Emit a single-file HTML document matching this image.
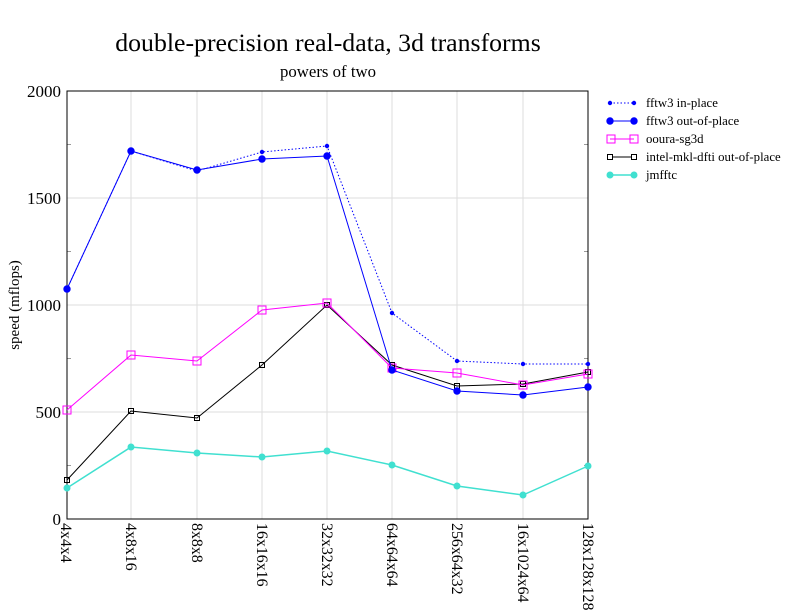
<!DOCTYPE html>
<html><head><style>body{margin:0;background:#fff}svg{display:block}text{font-family:"Liberation Serif",serif;fill:#000}</style></head><body>
<svg width="792" height="612" xmlns="http://www.w3.org/2000/svg">
<text x="328" y="51" font-size="25.8" text-anchor="middle">double-precision real-data, 3d transforms</text>
<text x="328" y="77" font-size="16.8" text-anchor="middle">powers of two</text>
<g stroke="#ddd" stroke-width="1">
<line x1="131" y1="91" x2="131" y2="519"/><line x1="197" y1="91" x2="197" y2="519"/><line x1="262" y1="91" x2="262" y2="519"/><line x1="327" y1="91" x2="327" y2="519"/><line x1="392" y1="91" x2="392" y2="519"/><line x1="457" y1="91" x2="457" y2="519"/><line x1="523" y1="91" x2="523" y2="519"/>
<line x1="67" y1="198" x2="588" y2="198"/><line x1="67" y1="305" x2="588" y2="305"/><line x1="67" y1="412" x2="588" y2="412"/>
</g>
<g stroke="#999"><line x1="67" y1="144.5" x2="71" y2="144.5"/><line x1="67" y1="251.5" x2="71" y2="251.5"/><line x1="67" y1="358.5" x2="71" y2="358.5"/><line x1="67" y1="465.5" x2="71" y2="465.5"/>
<line x1="584" y1="144.5" x2="588" y2="144.5"/><line x1="584" y1="251.5" x2="588" y2="251.5"/><line x1="584" y1="358.5" x2="588" y2="358.5"/><line x1="584" y1="465.5" x2="588" y2="465.5"/></g>
<rect x="67" y="91" width="521" height="428" fill="none" stroke="#000" stroke-width="1"/>
<g font-size="17" text-anchor="end"><text x="61" y="97">2000</text><text x="61" y="204">1500</text><text x="61" y="311">1000</text><text x="61" y="418">500</text><text x="61" y="525">0</text></g>
<text transform="translate(19,305) rotate(-90)" font-size="15" text-anchor="middle">speed (mflops)</text>
<g font-size="15.9">
<text transform="translate(61,523) rotate(90)">4x4x4</text>
<text transform="translate(126,523) rotate(90)">4x8x16</text>
<text transform="translate(192,523) rotate(90)">8x8x8</text>
<text transform="translate(257,523) rotate(90)">16x16x16</text>
<text transform="translate(322,523) rotate(90)">32x32x32</text>
<text transform="translate(387,523) rotate(90)">64x64x64</text>
<text transform="translate(452,523) rotate(90)">256x64x32</text>
<text transform="translate(518,523) rotate(90)">16x1024x64</text>
<text transform="translate(583,523) rotate(90)">128x128x128</text>
</g>
<polyline fill="none" stroke="#40e0d0" stroke-width="1.5" points="67,488 131,447 197,453 262,457 327,451 392,465 457,486 523,495 588,466"/>
<g fill="#40e0d0"><circle cx="67" cy="488" r="3.5"/><circle cx="131" cy="447" r="3.5"/><circle cx="197" cy="453" r="3.5"/><circle cx="262" cy="457" r="3.5"/><circle cx="327" cy="451" r="3.5"/><circle cx="392" cy="465" r="3.5"/><circle cx="457" cy="486" r="3.5"/><circle cx="523" cy="495" r="3.5"/><circle cx="588" cy="466" r="3.5"/></g>
<polyline fill="none" stroke="#000" stroke-width="1" points="67,480 131,411 197,418 262,365 327,305 392,365 457,386 523,384 588,372"/>
<g fill="none" stroke="#000"><rect x="64.5" y="477.5" width="5" height="5"/><rect x="128.5" y="408.5" width="5" height="5"/><rect x="194.5" y="415.5" width="5" height="5"/><rect x="259.5" y="362.5" width="5" height="5"/><rect x="324.5" y="302.5" width="5" height="5"/><rect x="389.5" y="362.5" width="5" height="5"/><rect x="454.5" y="383.5" width="5" height="5"/><rect x="520.5" y="381.5" width="5" height="5"/><rect x="585.5" y="369.5" width="5" height="5"/></g>
<polyline fill="none" stroke="#f0f" stroke-width="1" points="67,410 131,355 197,361 262,310 327,303 392,368 457,373 523,385 588,374"/>
<g fill="none" stroke="#f0f"><rect x="63" y="406" width="8" height="8"/><rect x="127" y="351" width="8" height="8"/><rect x="193" y="357" width="8" height="8"/><rect x="258" y="306" width="8" height="8"/><rect x="323" y="299" width="8" height="8"/><rect x="388" y="364" width="8" height="8"/><rect x="453" y="369" width="8" height="8"/><rect x="519" y="381" width="8" height="8"/><rect x="584" y="370" width="8" height="8"/></g>
<polyline fill="none" stroke="#00f" stroke-width="1" stroke-dasharray="1.5,2" points="67,289 131,151 197,171 262,152 327,146 392,313 457,361 523,364 588,364"/>
<g fill="#00f"><circle cx="67" cy="289" r="2.2"/><circle cx="131" cy="151" r="2.2"/><circle cx="197" cy="171" r="2.2"/><circle cx="262" cy="152" r="2.2"/><circle cx="327" cy="146" r="2.2"/><circle cx="392" cy="313" r="2.2"/><circle cx="457" cy="361" r="2.2"/><circle cx="523" cy="364" r="2.2"/><circle cx="588" cy="364" r="2.2"/></g>
<polyline fill="none" stroke="#00f" stroke-width="1" points="67,289 131,151 197,170 262,159 327,156 392,370 457,391 523,395 588,387"/>
<g fill="#00f"><circle cx="67" cy="289" r="3.7"/><circle cx="131" cy="151" r="3.7"/><circle cx="197" cy="170" r="3.7"/><circle cx="262" cy="159" r="3.7"/><circle cx="327" cy="156" r="3.7"/><circle cx="392" cy="370" r="3.7"/><circle cx="457" cy="391" r="3.7"/><circle cx="523" cy="395" r="3.7"/><circle cx="588" cy="387" r="3.7"/></g>
<g font-size="12.8">
<line x1="610" y1="103" x2="634" y2="103" stroke="#00f" stroke-dasharray="1.5,2"/><circle cx="610" cy="103" r="2.2" fill="#00f"/><circle cx="634" cy="103" r="2.2" fill="#00f"/><text x="646" y="107">fftw3 in-place</text>
<line x1="610" y1="121" x2="634" y2="121" stroke="#00f"/><circle cx="610" cy="121" r="3.7" fill="#00f"/><circle cx="634" cy="121" r="3.7" fill="#00f"/><text x="646" y="125">fftw3 out-of-place</text>
<line x1="610" y1="139" x2="634" y2="139" stroke="#f0f"/><rect x="607" y="135" width="8" height="8" fill="none" stroke="#f0f"/><rect x="630" y="135" width="8" height="8" fill="none" stroke="#f0f"/><text x="646" y="143">ooura-sg3d</text>
<line x1="610" y1="157" x2="634" y2="157" stroke="#000"/><rect x="607.5" y="154.5" width="5" height="5" fill="#fff" stroke="#000"/><rect x="631.5" y="154.5" width="5" height="5" fill="#fff" stroke="#000"/><text x="646" y="161">intel-mkl-dfti out-of-place</text>
<line x1="610" y1="175" x2="634" y2="175" stroke="#40e0d0" stroke-width="1.5"/><circle cx="610" cy="175" r="3.5" fill="#40e0d0"/><circle cx="634" cy="175" r="3.5" fill="#40e0d0"/><text x="646" y="179">jmfftc</text>
</g>
</svg>
</body></html>
